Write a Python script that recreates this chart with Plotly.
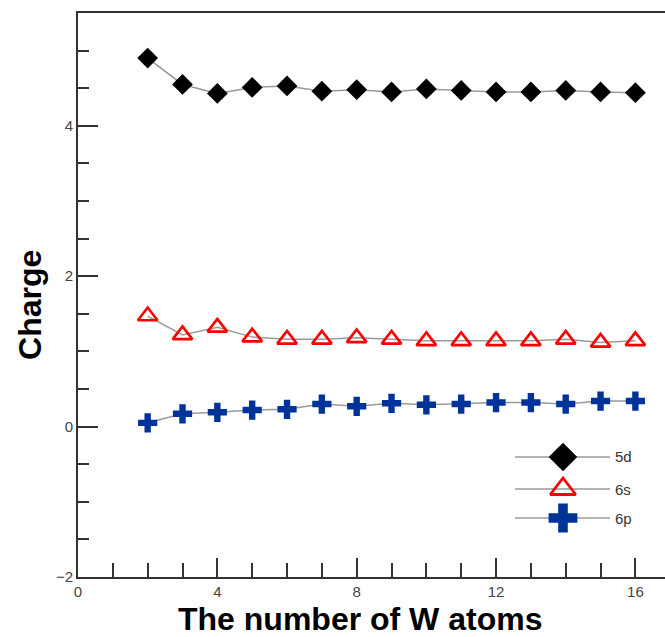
import plotly.graph_objects as go

atoms = [2, 3, 4, 5, 6, 7, 8, 9, 10, 11, 12, 13, 14, 15, 16]
charge_5d = [4.90, 4.55, 4.43, 4.51, 4.53, 4.46, 4.48, 4.45, 4.49, 4.47, 4.45, 4.45, 4.47, 4.45, 4.44]
charge_6s = [1.47, 1.22, 1.32, 1.19, 1.16, 1.16, 1.18, 1.16, 1.14, 1.14, 1.14, 1.14, 1.16, 1.12, 1.14]
charge_6p = [0.05, 0.17, 0.19, 0.22, 0.23, 0.30, 0.27, 0.31, 0.29, 0.30, 0.32, 0.32, 0.30, 0.34, 0.34]

series_names = ["5d", "6s", "6p"]
x_ticks = [0, 4, 8, 12, 16]
y_ticks = [-2, 0, 2, 4]
x_title = "The number of W atoms"
y_title = "Charge"

LINE = "#9a9a9a"
FONT = "Liberation Sans, Arial"
styles = [
    dict(symbol="diamond", size=16, color="black", line=dict(width=0)),
    dict(symbol="triangle-up-open", size=17, color="#ff0000", line=dict(width=2.6, color="#ff0000")),
    dict(symbol="cross", size=16, color="#003399", line=dict(width=0)),
]
legend_styles = [
    dict(symbol="diamond", size=22, color="black", line=dict(width=0)),
    dict(symbol="triangle-up-open", size=22, color="#ff0000", line=dict(width=2.8, color="#ff0000")),
    dict(symbol="cross", size=24, color="#003399", line=dict(width=0)),
]

fig = go.Figure()
for name, vals, st in zip(series_names, [charge_5d, charge_6s, charge_6p], styles):
    fig.add_trace(go.Scatter(x=atoms, y=vals, mode="lines+markers", name=name,
                             line=dict(color=LINE, width=1.5), marker=st, showlegend=False))

# manual legend (positions as fractions of plot area)
leg_y = [0.2128, 0.156, 0.1046]
for name, ly, st in zip(series_names, leg_y, legend_styles):
    fig.add_trace(go.Scatter(x=[0.7445, 0.9063], y=[ly, ly], mode="lines", xaxis="x2", yaxis="y2",
                             line=dict(color=LINE, width=1.5), showlegend=False, hoverinfo="skip"))
    fig.add_trace(go.Scatter(x=[0.8262], y=[ly], mode="markers", xaxis="x2", yaxis="y2",
                             marker=st, showlegend=False, hoverinfo="skip"))
    fig.add_annotation(x=0.912, y=ly, xref="paper", yref="paper", text=name, showarrow=False,
                       xanchor="left", yanchor="middle",
                       font=dict(family=FONT, size=15, color="#333333"))

# axis titles
fig.add_annotation(x=0.480, y=-0.0745, xref="paper", yref="paper", text="<b>" + x_title + "</b>",
                   showarrow=False, xanchor="center", yanchor="middle",
                   font=dict(family=FONT, size=32, color="black"))
fig.add_annotation(x=-0.0818, y=0.4823, xref="paper", yref="paper", text="<b>" + y_title + "</b>",
                   showarrow=False, xanchor="center", yanchor="middle", textangle=-90,
                   font=dict(family=FONT, size=32, color="black"))

fig.update_layout(
    width=665, height=637,
    margin=dict(l=78, r=0, t=13, b=60),
    paper_bgcolor="white", plot_bgcolor="white",
    xaxis=dict(range=[0, 16.85], tickvals=x_ticks, ticks="inside", ticklen=19, tickwidth=1.5,
               tickcolor="#333333", showline=True, linecolor="#333333", linewidth=2,
               mirror=True, showgrid=False, zeroline=False,
               minor=dict(dtick=1, tick0=0, ticks="inside", ticklen=14, tickwidth=1.5, tickcolor="#333333", showgrid=False),
               tickfont=dict(family=FONT, size=15, color="#444444")),
    yaxis=dict(range=[-2, 5.5], tickvals=y_ticks, ticks="inside", ticklen=20, tickwidth=1.5,
               tickcolor="#333333", showline=True, linecolor="#333333", linewidth=2,
               showgrid=False, zeroline=False,
               minor=dict(dtick=0.5, tick0=0, ticks="inside", ticklen=11, tickwidth=1.5, tickcolor="#333333", showgrid=False),
               tickfont=dict(family=FONT, size=15, color="#444444")),
    xaxis2=dict(overlaying="x", range=[0, 1], visible=False, anchor="y2"),
    yaxis2=dict(overlaying="y", range=[0, 1], visible=False, anchor="x2"),
)

fig.write_html("out.html")
